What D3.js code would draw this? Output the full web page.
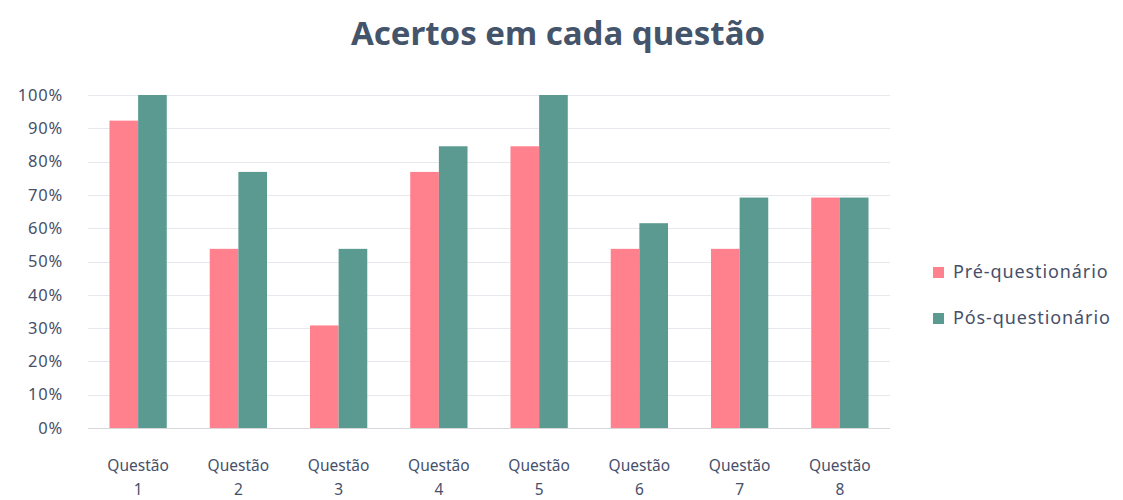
<!DOCTYPE html>
<html>
<head>
<meta charset="utf-8">
<script src="https://cdn.jsdelivr.net/npm/d3@7"></script>
<style>
  body { margin: 0; background: #fff; }
  text { font-family: "Noto Sans", "Open Sans", sans-serif; }
</style>
</head>
<body>
<div class="chart"></div>
<script>
// data (13 respondents -> steps of ~7.7%)
const questions = ['1', '2', '3', '4', '5', '6', '7', '8'];
const seriesNames = ['Pré-questionário', 'Pós-questionário'];
const preValues = [92.3, 53.8, 30.8, 76.9, 84.6, 53.8, 53.8, 69.2];
const posValues = [100, 76.9, 53.8, 84.6, 100, 61.5, 69.2, 69.2];
const yTicks = [0, 10, 20, 30, 40, 50, 60, 70, 80, 90, 100];
const colors = ['#ff818d', '#5a9a91'];

const svgWidth = 1123;
const svgHeight = 500;
const margin = { top: 95, right: 233, bottom: 72, left: 88 };
const width = svgWidth - margin.left - margin.right;
const height = svgHeight - margin.top - margin.bottom;

const svg = d3.select('.chart')
    .append('svg')
    .attr('width', svgWidth)
    .attr('height', svgHeight);

svg.append('text')
    .attr('x', 558)
    .attr('y', 45)
    .attr('text-anchor', 'middle')
    .style('font-size', '33px')
    .style('font-weight', 'bold')
    .style('fill', '#44546a')
    .text('Acertos em cada questão');

const g = svg.append('g')
    .attr('transform', `translate(${margin.left},${margin.top})`);

const x0 = d3.scaleBand()
    .range([0, width])
    .domain(questions)
    .padding(0);

// excel style: gap width 150% => group is 2/3.5 of a step
const groupWidth = x0.step() * 2 / 3.5;
const x1 = d3.scaleBand()
    .range([0, groupWidth])
    .domain(seriesNames);

const y = d3.scaleLinear()
    .range([height, 0])
    .domain([0, 100]);

// gridlines
g.append('g')
    .selectAll('line')
    .data(yTicks)
    .enter()
    .append('line')
    .attr('x1', 0)
    .attr('x2', width)
    .attr('y1', d => Math.round(y(d)) + 0.5)
    .attr('y2', d => Math.round(y(d)) + 0.5)
    .style('stroke', d => d === 0 ? '#d6d8de' : '#e6e8ee')
    .style('stroke-width', 1.2);

// y labels
g.append('g')
    .selectAll('text')
    .data(yTicks)
    .enter()
    .append('text')
    .attr('x', -25)
    .attr('y', d => y(d))
    .attr('dy', '0.35em')
    .attr('text-anchor', 'end')
    .style('font-size', '16.5px')
    .style('letter-spacing', '0.8px')
    .style('fill', '#46506a')
    .text(d => d + '%');

const rows = questions.map((q, i) => ({ q, vals: [preValues[i], posValues[i]] }));

const groups = g.selectAll('.grp')
    .data(rows)
    .enter()
    .append('g')
    .attr('class', 'grp')
    .attr('transform', d => `translate(${x0(d.q) + (x0.bandwidth() - groupWidth) / 2},0)`);

groups.selectAll('rect')
    .data(d => d.vals.map((v, j) => ({ name: seriesNames[j], v, j })))
    .enter()
    .append('rect')
    .attr('x', d => x1(d.name))
    .attr('y', d => y(d.v))
    .attr('width', x1.bandwidth())
    .attr('height', d => height - y(d.v))
    .style('fill', d => colors[d.j]);

// category labels in two lines
const cat = g.append('g')
    .selectAll('text')
    .data(questions)
    .enter()
    .append('text')
    .attr('x', d => x0(d) + x0.bandwidth() / 2)
    .attr('y', height + 43)
    .attr('text-anchor', 'middle')
    .style('font-size', '15.5px')
    .style('fill', '#46506a');
cat.append('tspan')
    .attr('x', d => x0(d) + x0.bandwidth() / 2)
    .text('Questão');
cat.append('tspan')
    .attr('x', d => x0(d) + x0.bandwidth() / 2)
    .attr('dy', 24)
    .text(d => d);

// legend
const legend = svg.append('g')
    .selectAll('g')
    .data(seriesNames)
    .enter()
    .append('g')
    .attr('transform', (d, i) => `translate(933,${272 + i * 46})`);
legend.append('rect')
    .attr('x', 0)
    .attr('y', -5)
    .attr('width', 11)
    .attr('height', 11)
    .style('fill', (d, i) => colors[i]);
legend.append('text')
    .attr('x', 20)
    .attr('y', 0)
    .attr('dy', '0.35em')
    .style('font-size', '18px')
    .style('letter-spacing', '0.9px')
    .style('fill', '#46506a')
    .text(d => d);
</script>
</body>
</html>
